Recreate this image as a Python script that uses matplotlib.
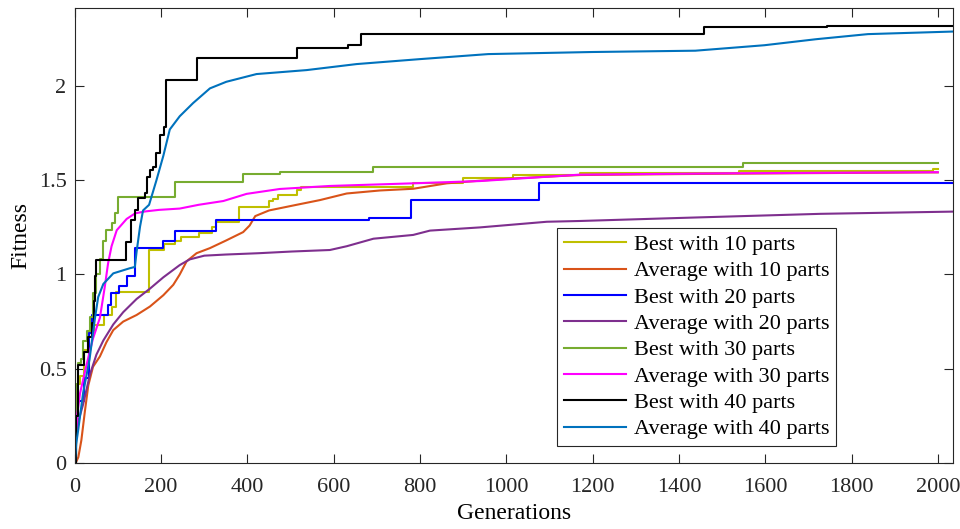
import matplotlib
matplotlib.use("Agg")
import matplotlib.pyplot as plt

plt.rcParams['font.family'] = ['Liberation Serif', 'DejaVu Serif']

# Best with 10 parts
gen_b10 = [0, 2, 6, 12, 20, 30, 44, 67, 85, 95, 172, 206, 233, 245, 287, 318, 326, 380,
           449, 460, 470, 515, 525, 784, 900, 1016, 1170, 1540, 1990, 2000]
fit_b10 = [0, 0.25, 0.42, 0.46, 0.60, 0.70, 0.73, 0.786, 0.83, 0.905, 1.13, 1.16, 1.18, 1.20,
           1.22, 1.25, 1.28, 1.36, 1.39, 1.40, 1.42, 1.45, 1.467, 1.484, 1.51, 1.53, 1.54,
           1.55, 1.56, 1.56]

# Average with 10 parts
gen_a10 = [0, 4, 8, 15, 23, 31, 42, 58, 73, 89, 112, 143, 174, 205, 228, 243, 259, 282, 313,
           350, 390, 405, 418, 450, 514, 568, 630, 707, 784, 862, 939, 1016, 1170, 1400, 1700, 2000]
fit_a10 = [0, 0.01, 0.03, 0.12, 0.27, 0.41, 0.51, 0.565, 0.64, 0.705, 0.75, 0.785, 0.83, 0.89,
           0.945, 1.0, 1.07, 1.113, 1.14, 1.18, 1.225, 1.26, 1.31, 1.34, 1.37, 1.395, 1.43,
           1.446, 1.455, 1.484, 1.498, 1.51, 1.528, 1.533, 1.538, 1.542]

# Best with 20 parts
gen_b20 = [0, 3, 8, 20, 32, 40, 77, 83, 102, 121, 140, 204, 233, 326, 681, 779, 1076, 2040]
fit_b20 = [0, 0.25, 0.33, 0.45, 0.69, 0.786, 0.84, 0.90, 0.94, 0.99, 1.14, 1.178, 1.233,
           1.288, 1.302, 1.396, 1.485, 1.485]

# Average with 20 parts
gen_a20 = [0, 2, 8, 19, 35, 50, 66, 89, 112, 143, 174, 205, 243, 266, 300, 350, 426, 503,
           591, 630, 692, 784, 823, 939, 1094, 1170, 1400, 1728, 2040]
fit_a20 = [0, 0.15, 0.22, 0.31, 0.47, 0.575, 0.65, 0.735, 0.80, 0.87, 0.925, 0.985, 1.05,
           1.08, 1.10, 1.106, 1.113, 1.122, 1.13, 1.15, 1.19, 1.21, 1.233, 1.25, 1.28, 1.284,
           1.30, 1.322, 1.334]

# Best with 30 parts
gen_b30 = [0, 2, 5, 8, 15, 19, 27, 35, 42, 50, 58, 66, 73, 85, 93, 100, 232, 390, 475, 690,
           1548, 2000]
fit_b30 = [0, 0.25, 0.42, 0.53, 0.55, 0.645, 0.70, 0.776, 0.90, 1.0, 1.08, 1.18, 1.237, 1.272,
           1.325, 1.413, 1.49, 1.534, 1.545, 1.57, 1.594, 1.594]

# Average with 30 parts
gen_a30 = [0, 5, 12, 27, 42, 58, 69, 77, 85, 97, 120, 140, 164, 195, 243, 287, 344, 398, 475,
           591, 784, 939, 1170, 1500, 2000]
fit_a30 = [0, 0.25, 0.37, 0.52, 0.66, 0.77, 0.93, 1.06, 1.15, 1.235, 1.295, 1.325, 1.335,
           1.343, 1.35, 1.37, 1.39, 1.428, 1.454, 1.47, 1.484, 1.496, 1.53, 1.537, 1.543]

# Best with 40 parts
gen_b40 = [0, 2, 8, 20, 31, 39, 44, 47, 50, 118, 131, 139, 147, 162, 166, 174, 182, 188, 198,
           206, 211, 283, 514, 633, 662, 1457, 1743, 2040]
fit_b40 = [0, 0.25, 0.52, 0.59, 0.67, 0.74, 0.86, 0.99, 1.078, 1.17, 1.29, 1.34, 1.405, 1.43,
           1.52, 1.555, 1.573, 1.644, 1.74, 1.785, 2.033, 2.148, 2.204, 2.218, 2.277, 2.313,
           2.32, 2.32]

# Average with 40 parts
gen_a40 = [0, 3, 8, 19, 34, 46, 54, 66, 89, 127, 139, 143, 151, 158, 172, 189, 205, 220, 243,
           274, 313, 351, 421, 537, 653, 798, 958, 1198, 1438, 1598, 1718, 1838, 2040]
fit_a40 = [0, 0.1, 0.18, 0.37, 0.55, 0.76, 0.88, 0.95, 1.006, 1.033, 1.04, 1.12, 1.254, 1.34,
           1.37, 1.5, 1.63, 1.77, 1.84, 1.91, 1.988, 2.023, 2.064, 2.085, 2.117, 2.143, 2.17,
           2.181, 2.188, 2.217, 2.249, 2.276, 2.29]

labels = ["Best with 10 parts", "Average with 10 parts", "Best with 20 parts",
          "Average with 20 parts", "Best with 30 parts", "Average with 30 parts",
          "Best with 40 parts", "Average with 40 parts"]
x_ticks = [0, 200, 400, 600, 800, 1000, 1200, 1400, 1600, 1800, 2000]
y_ticks = [0, 0.5, 1, 1.5, 2]
y_tick_labels = ["0", "0.5", "1", "1.5", "2"]

series = [
    (gen_b10, fit_b10, "#BFBF00", True),
    (gen_a10, fit_a10, "#D95319", False),
    (gen_b20, fit_b20, "#0000FF", True),
    (gen_a20, fit_a20, "#7E2F8E", False),
    (gen_b30, fit_b30, "#77AC30", True),
    (gen_a30, fit_a30, "#FF00FF", False),
    (gen_b40, fit_b40, "#000000", True),
    (gen_a40, fit_a40, "#0072BD", False),
]

fig = plt.figure(figsize=(9.6, 5.29), dpi=100)
ax = fig.add_axes([0.078, 0.125, 0.9146, 0.860])

for (gx, fy, col, step), lab in zip(series, labels):
    ax.plot(gx, fy, color=col, lw=1.5, label=lab,
            drawstyle="steps-post" if step else "default")

ax.set_xlim(0, 2035)
ax.set_ylim(0, 2.415)
ax.set_xticks(x_ticks)
ax.set_yticks(y_ticks)
ax.set_yticklabels(y_tick_labels)
ax.tick_params(direction="in", length=6.5, width=0.8, top=True, right=True,
               labelsize=16, colors="#262626")
ax.tick_params(axis="x", pad=11)
ax.tick_params(axis="y", pad=6)
for s in ax.spines.values():
    s.set_color("#262626")
    s.set_linewidth(0.8)

ax.set_xlabel("Generations", fontsize=17, labelpad=4)
ax.set_ylabel("Fitness", fontsize=17, labelpad=5)

leg = ax.legend(loc="lower right", bbox_to_anchor=(0.867, 0.037), borderaxespad=0,
                fontsize=16, handlelength=2.8, labelspacing=0.26, handletextpad=0.35,
                borderpad=0.3, fancybox=False, framealpha=1, edgecolor="#262626")
leg.get_frame().set_linewidth(0.8)

fig.savefig("out.png", dpi=100)
